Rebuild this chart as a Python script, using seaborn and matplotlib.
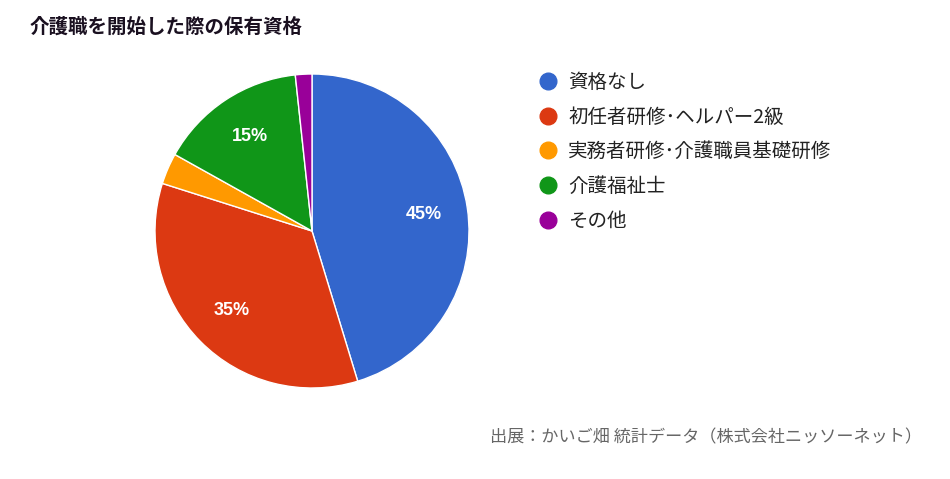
import matplotlib
matplotlib.use("Agg")
import matplotlib.pyplot as plt
from matplotlib.lines import Line2D
import seaborn as sns

categories = ["資格なし", "初任者研修･ヘルパー2級", "実務者研修･介護職員基礎研修", "介護福祉士", "その他"]
values = [45.3, 34.6, 3.2, 15.2, 1.7]
colors_hex = ["#3366cc", "#dc3912", "#ff9900", "#109618", "#990099"]
title = "介護職を開始した際の保有資格"
source = "出展：かいご畑 統計データ（株式会社ニッソーネット）"

sns.set_style("white")
plt.rcParams['font.family'] = ['Noto Sans CJK JP', 'DejaVu Sans']
palette = sns.color_palette(colors_hex)

W, H = 950, 479
fig = plt.figure(figsize=(W / 100, H / 100), dpi=100)
fig.patch.set_facecolor("white")

cx, cy, r = 312, 231, 157
ax = fig.add_axes([(cx - r) / W, (H - cy - r) / H, 2 * r / W, 2 * r / H])

def fmt(p):
    return f"{p:.0f}%" if p >= 5 else ""

wedges, texts, autotexts = ax.pie(
    values, colors=palette, startangle=90, counterclock=False,
    autopct=fmt, pctdistance=0.72,
    wedgeprops=dict(edgecolor="white", linewidth=1),
    textprops=dict(color="white", fontsize=13, fontweight="bold",
                   family=["Liberation Sans", "DejaVu Sans"]),
)
ax.set_xlim(-1, 1)
ax.set_ylim(-1, 1)
ax.set_aspect("equal")
ax.axis("off")

fig.text(30 / W, 1 - 27 / H, title, fontsize=14, fontweight="bold", color="#1a1020",
         ha="left", va="center")

handles = [Line2D([0], [0], marker="o", linestyle="none", markersize=12,
                  markerfacecolor=c, markeredgecolor=c) for c in palette]
leg = fig.legend(handles, categories, loc="upper left",
                 bbox_to_anchor=(538 / W, 1 - 72 / H), frameon=False,
                 fontsize=14, labelspacing=0.7, handletextpad=0.55,
                 handlelength=1.0, borderpad=0, borderaxespad=0)
for t in leg.get_texts():
    t.set_color("#222222")

fig.text(490 / W, 1 - 437 / H, source, fontsize=12.3, color="#666666",
         ha="left", va="center")

fig.savefig("out.png", dpi=100, facecolor="white")
